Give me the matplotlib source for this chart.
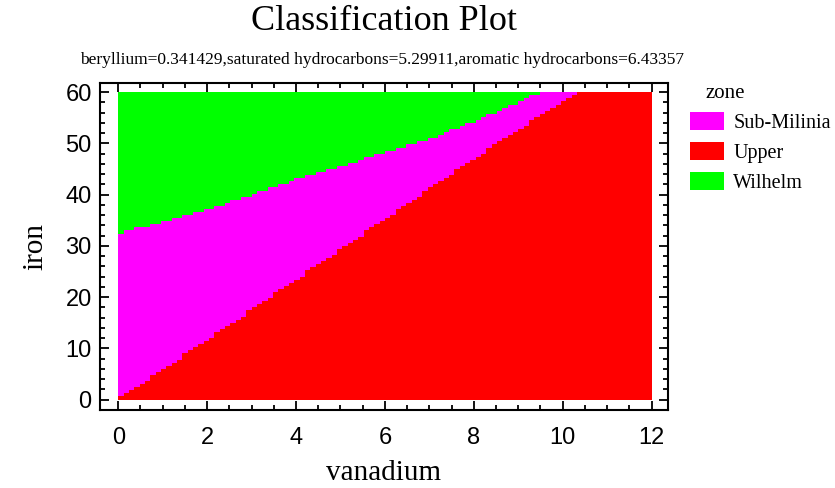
import numpy as np
import matplotlib.pyplot as plt
from matplotlib.colors import ListedColormap
from matplotlib.patches import Patch
from matplotlib.ticker import MultipleLocator

# 分类边界
wilhelm_x = [0, 1, 2, 3, 4, 5, 6, 7, 8, 9, 9.5]
wilhelm_y = [32.4, 34.6, 37.0, 40.0, 42.9, 45.5, 48.4, 50.8, 54.3, 58.1, 60]
upper_x = [0, 2, 4, 6, 8, 10, 10.35]
upper_y = [0, 11.7, 23.4, 35.2, 47.0, 58.3, 60]

zones = ['Sub-Milinia', 'Upper', 'Wilhelm']
zone_colors = ['#ff00ff', '#ff0000', '#00ff00']

x_range = [0, 12]
y_range = [0, 60]
n_grid = 100

title = 'Classification Plot'
subtitle = 'beryllium=0.341429,saturated hydrocarbons=5.29911,aromatic hydrocarbons=6.43357'

# 网格分类
xe = np.linspace(x_range[0], x_range[1], n_grid + 1)
ye = np.linspace(y_range[0], y_range[1], n_grid + 1)
xc = (xe[:-1] + xe[1:]) / 2
yc = (ye[:-1] + ye[1:]) / 2
X, Y = np.meshgrid(xc, yc)
top = np.interp(X, wilhelm_x, wilhelm_y)
bot = np.interp(X, upper_x, upper_y)
Z = np.where(Y > top, 2, np.where(Y > bot, 0, 1))

fig = plt.figure(figsize=(8.35, 4.88), dpi=100)
ax = fig.add_axes([100 / 835, 1 - 410 / 488, 568 / 835, 327 / 488])
ax.pcolormesh(xe, ye, Z, cmap=ListedColormap(zone_colors), vmin=-0.5, vmax=2.5,
              shading='flat', antialiased=False, edgecolors='none')

ax.set_xlim(-0.41, 12.37)
ax.set_ylim(-2.05, 61.8)
ax.xaxis.set_major_locator(MultipleLocator(2))
ax.xaxis.set_minor_locator(MultipleLocator(0.5))
ax.yaxis.set_major_locator(MultipleLocator(10))
ax.yaxis.set_minor_locator(MultipleLocator(2))
ax.tick_params(which='both', direction='in', top=True, right=True, width=1.3, color='black')
ax.tick_params(which='major', length=6.5)
ax.tick_params(which='minor', length=3.5)
ax.tick_params(axis='x', labelsize=17, pad=12)
ax.tick_params(axis='y', labelsize=17, pad=6)
for lab in ax.get_xticklabels() + ax.get_yticklabels():
    lab.set_family('Liberation Sans')
for sp in ax.spines.values():
    sp.set_linewidth(1.5)

serif = 'Liberation Serif'
ax.set_xlabel('vanadium', family=serif, fontsize=21, labelpad=8)
ax.set_ylabel('iron', family=serif, fontsize=21, labelpad=12)

fig.text(384 / 835, 1 - 22 / 488, title, family=serif, fontsize=26, ha='center', va='center')
fig.text(382 / 835, 1 - 60 / 488, subtitle, family=serif, fontsize=12.5, ha='center', va='center')

# 图例
fig.text(705 / 835, 1 - 94 / 488, 'zone', family=serif, fontsize=15, ha='left', va='center')
handles = [Patch(facecolor=c, edgecolor='none') for c in zone_colors]
fig.legend(handles, zones, loc='upper left', bbox_to_anchor=(684 / 835, 1 - 106 / 488),
           frameon=False, prop={'family': serif, 'size': 14.5},
           handlelength=1.7, handleheight=1.0, handletextpad=0.45, labelspacing=0.45,
           borderaxespad=0, borderpad=0.3)

fig.savefig('out.png', dpi=100)
